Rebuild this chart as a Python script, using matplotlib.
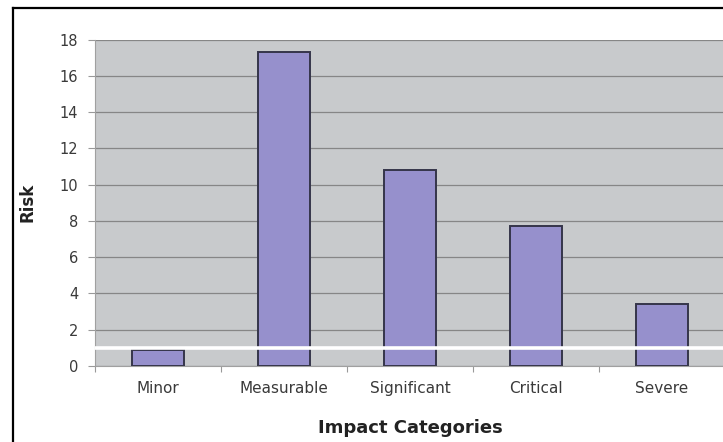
import numpy as np
import matplotlib
matplotlib.use("Agg")
import matplotlib.pyplot as plt
from matplotlib.lines import Line2D

# impact categories and their risk scores
categories = ["Minor", "Measurable", "Significant", "Critical", "Severe"]
risk = [0.9, 17.3, 10.8, 7.7, 3.4]
threshold = 1.0
yticks = list(range(0, 19, 2))

plt.rcParams["font.family"] = ["DejaVu Sans"]

fig = plt.figure(figsize=(7.23, 4.42), dpi=100)
ax = fig.add_axes([95 / 723, 1 - 366 / 442, 630 / 723, 326.5 / 442])

x = np.arange(len(categories))
ax.set_facecolor("#c8cacc")
ax.bar(x, risk, width=0.41, color="#9690cc", edgecolor="#35354a",
       linewidth=1.4, zorder=3)
ax.axhline(threshold, color="white", linewidth=2.6, zorder=4)

ax.set_xlim(-0.5, len(categories) - 0.5)
ax.set_ylim(0, 18)
ax.set_yticks(yticks)
ax.yaxis.grid(True, color="#868686", linewidth=0.9, zorder=1)
ax.set_axisbelow(True)

# ticks at category boundaries, labels centred under the bars
ax.set_xticks(np.arange(-0.5, len(categories), 1.0))
ax.set_xticklabels([])
ax.set_xticks(x, minor=True)
ax.set_xticklabels(categories, minor=True, fontsize=11, color="#3a3a3a")
ax.tick_params(axis="x", which="major", length=4, color="#999999", direction="out")
ax.tick_params(axis="x", which="minor", length=0, pad=11)
ax.tick_params(axis="y", length=5, color="#999999", labelsize=10.5,
               labelcolor="#3a3a3a", pad=7)

for side in ["top", "right"]:
    ax.spines[side].set_visible(False)
for side in ["left", "bottom"]:
    ax.spines[side].set_color("#a0a0a0")
    ax.spines[side].set_linewidth(0.8)

ax.set_xlabel("Impact Categories", fontsize=13, fontweight="bold", color="#222222")
ax.xaxis.set_label_coords(0.5, -(428 - 366) / 326.5)
ax.xaxis.label.set_va("center")
ax.set_ylabel("Risk", fontsize=12, fontweight="bold", color="#222222")
ax.yaxis.set_label_coords((27.5 - 95) / 630, 0.5)
ax.yaxis.label.set_va("center")

# chart frame along the top and left edges
fx = 13 / 723
fy = 1 - 8 / 442
fig.add_artist(Line2D([fx, 1.0], [fy, fy], transform=fig.transFigure,
                      color="black", linewidth=1.6))
fig.add_artist(Line2D([fx, fx], [0.0, fy], transform=fig.transFigure,
                      color="black", linewidth=1.6))

fig.savefig("out.png", dpi=100)
